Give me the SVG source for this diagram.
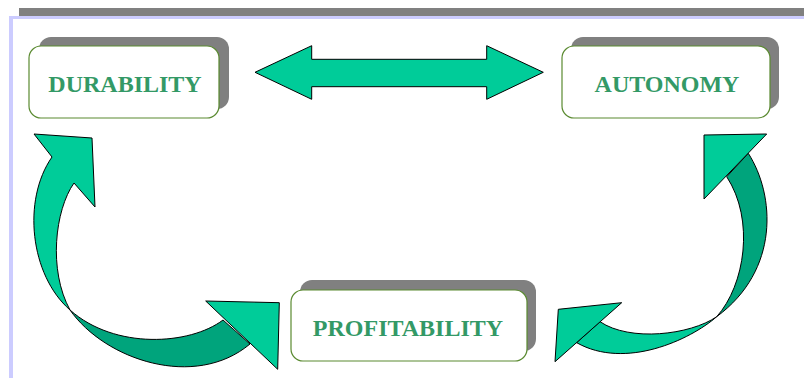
<svg xmlns="http://www.w3.org/2000/svg" width="804" height="378" viewBox="0 0 804 378">
<style>
.shadow{fill:#808080}
.box{fill:#ffffff;stroke:#5A8A30;stroke-width:1.2}
.lbl{font-family:"Liberation Serif","Times New Roman",serif;font-weight:bold;font-size:24px;fill:#339966;text-anchor:middle}
.lt{fill:#00CC99;stroke:#000;stroke-width:1;stroke-linejoin:miter}
.dk{fill:#00A47C;stroke:#000;stroke-width:1;stroke-linejoin:miter}
</style>
<rect x="0" y="0" width="804" height="378" fill="#ffffff"/>
<g id="frame">
<rect x="19" y="8" width="785" height="8" fill="#808080"/>
<rect x="10" y="16" width="794" height="3" fill="#CCCCFF"/>
<rect x="9" y="16" width="4" height="362" fill="#CCCCFF"/>
</g>
<g id="connectors">
<path class="lt" d="M255,72.3 L311.7,45.7 L311.7,59.3 L486.7,59.3 L486.7,45.7 L543.3,72.3 L486.7,99.3 L486.7,86.7 L311.7,86.7 L311.7,99.3 Z"/>
<path class="dk" d="M70,310 C105,360 195,390 250,344 L223,320 C190,345 115,350 70,310 Z"/>
<path class="lt" d="M70,310 C30,275 22,200 52,157 L34,134 L92,138 L95,207 L74,183 C55,210 48,270 70,310 Z"/>
<path class="lt" d="M205.7,301 L279.3,302.7 L277.7,369.3 Z"/>
<path class="dk" d="M748.3,153.3 C775,195 780,270 716.7,316.7 C745,285 755,220 726.7,176.7 Z"/>
<path class="lt" d="M704,135 L766.7,134 L704,199 Z"/>
<path class="lt" d="M716.7,316.7 C690,340 625,370 576.7,342.7 L600,321.7 C630,342 690,335 716.7,316.7 Z"/>
<path class="lt" d="M621.7,302.7 L558.3,309.3 L555,361.7 Z"/>
</g>
<g id="durability">
<rect class="shadow" x="39" y="37" width="190" height="72" rx="12"/>
<rect class="box" x="29" y="46" width="190" height="72" rx="12"/>
<text class="lbl" x="125" y="92">DURABILITY</text>
</g>
<g id="autonomy">
<rect class="shadow" x="571" y="37" width="208" height="72" rx="12"/>
<rect class="box" x="562" y="46" width="208" height="72" rx="12"/>
<text class="lbl" x="667" y="92">AUTONOMY</text>
</g>
<g id="profitability">
<rect class="shadow" x="300" y="280" width="236" height="71" rx="12"/>
<rect class="box" x="291" y="290" width="236" height="71" rx="12"/>
<text class="lbl" x="408" y="336">PROFITABILITY</text>
</g>
</svg>
